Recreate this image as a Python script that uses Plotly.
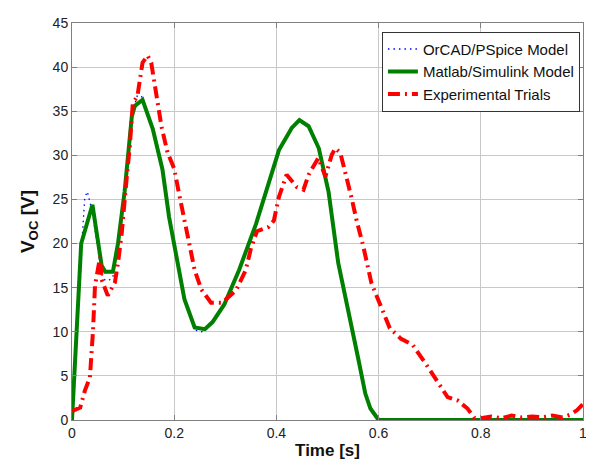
import plotly.graph_objects as go

# Matlab/Simulink model
t_sim = [0, 0.018, 0.04, 0.058, 0.065, 0.08, 0.09, 0.103, 0.117, 0.123, 0.138, 0.158, 0.177,
         0.19, 0.22, 0.24, 0.26, 0.275, 0.298, 0.327, 0.36, 0.385, 0.405, 0.43, 0.445, 0.463,
         0.483, 0.502, 0.521, 0.56, 0.574, 0.584, 0.6, 1.0]
v_sim = [0, 20, 24.4, 17.5, 16.8, 16.8, 20, 25.9, 34.4, 35.6, 36.3, 33, 28.4,
         23, 13.7, 10.5, 10.3, 11.1, 13.1, 17, 22.2, 27, 30.6, 33.1, 34, 33.3,
         30.8, 25.9, 17.8, 7, 3, 1.3, 0, 0]

# OrCAD/PSpice model
t_psp = [0, 0.009, 0.018, 0.025, 0.03, 0.04, 0.058, 0.065, 0.074, 0.08, 0.09, 0.103, 0.117,
         0.128, 0.138, 0.158, 0.177, 0.19, 0.22, 0.24, 0.253, 0.26, 0.275, 0.298, 0.327, 0.36,
         0.385, 0.405, 0.43, 0.445, 0.463, 0.483, 0.502, 0.521, 0.56, 0.574, 0.584, 0.6, 1.0]
v_psp = [0, 9.7, 18.9, 25.2, 25.9, 23.5, 16.5, 15.8, 15.9, 16.2, 19.5, 25.5, 34.6,
         36.8, 36.6, 33, 28.4, 23, 13.5, 10.2, 10, 10.1, 11, 13, 17, 22.2,
         27, 30.6, 33.1, 34, 33.3, 30.8, 25.9, 17.8, 7, 3, 1.3, 0, 0]

# Experimental trials
t_exp = [0, 0.016, 0.025, 0.035, 0.041, 0.045, 0.055, 0.058, 0.07, 0.084, 0.09, 0.097, 0.107,
         0.113, 0.119, 0.128, 0.138, 0.148, 0.155, 0.165, 0.175, 0.187, 0.2, 0.21, 0.22, 0.23,
         0.24, 0.253, 0.272, 0.294, 0.321, 0.34, 0.35, 0.362, 0.385, 0.395, 0.405, 0.42, 0.44,
         0.453, 0.463, 0.482, 0.496, 0.508, 0.515, 0.525, 0.537, 0.547, 0.557, 0.57, 0.586,
         0.603, 0.622, 0.644, 0.667, 0.693, 0.716, 0.735, 0.755, 0.774, 0.788, 0.8, 0.82, 0.84,
         0.86, 0.88, 0.9, 0.92, 0.94, 0.96, 0.975, 0.988, 1.0]
v_exp = [1.0, 1.4, 3.3, 4.8, 10, 15.2, 18.5, 15.9, 14.1, 15.6, 17.8, 21, 27.4,
         31, 35.9, 36.7, 40.5, 41.3, 40.5, 36.9, 33.3, 30.3, 28.5, 25.5, 22.6, 19.7,
         17, 14.8, 13.3, 13.3, 14.7, 17, 19.4, 21.4, 21.9, 22.6, 25.3, 27.8, 26.4,
         26.1, 27.8, 29.7, 27.6, 30, 30.8, 30.3, 27.6, 25.2, 22.6, 19.7, 15.5,
         13, 10.4, 9.2, 8.5, 6.3, 4.3, 2.6, 2.2, 1.3, 0.2, 0.2, 0.4, 0.2,
         0.5, 0.3, 0.4, 0.3, 0.5, 0.3, 0.6, 1.1, 1.8]

x_ticks = [0, 0.2, 0.4, 0.6, 0.8, 1]
x_tick_labels = ["0", "0.2", "0.4", "0.6", "0.8", "1"]
y_ticks = [0, 5, 10, 15, 20, 25, 30, 35, 40, 45]

fig = go.Figure()
fig.add_trace(go.Scatter(x=t_psp, y=v_psp, mode="lines", name="OrCAD/PSpice Model",
                         line=dict(color="#0000ff", width=1.3, dash="1.5px,4px")))
fig.add_trace(go.Scatter(x=t_sim, y=v_sim, mode="lines", name="Matlab/Simulink Model",
                         line=dict(color="#008000", width=4)))
fig.add_trace(go.Scatter(x=t_exp, y=v_exp, mode="lines", name="Experimental Trials",
                         line=dict(color="#ff0000", width=4, dash="12px,5px,2px,5px")))

font = "Liberation Sans, Arial, sans-serif"
axis_common = dict(showline=True, linecolor="#808080", linewidth=1, mirror="ticks",
                   ticks="inside", ticklen=5, tickcolor="#808080",
                   showgrid=True, gridcolor="#c8c8c8", gridwidth=1,
                   zeroline=False, ticklabeloverflow="allow",
                   tickfont=dict(family=font, size=14, color="#222"))

fig.update_xaxes(range=[0, 1], tickvals=x_ticks, ticktext=x_tick_labels,
                 title=dict(text="<b>Time [s]</b>", font=dict(family=font, size=17, color="#111"),
                            standoff=4), **axis_common)
fig.update_yaxes(range=[0, 45], tickvals=y_ticks,
                 title=dict(text="<b>V<sub>OC</sub> [V]</b>", font=dict(family=font, size=19, color="#111"),
                            standoff=12), **axis_common)

# the page body adds an 8px offset; the figure is sized to fill the rest of the window
fig.update_layout(
    width=586, height=460,
    margin=dict(l=64, r=8, t=7, b=48),
    paper_bgcolor="white", plot_bgcolor="white",
    font=dict(family=font, size=14, color="#111"),
    showlegend=True,
    legend=dict(x=0.994, y=0.978, xanchor="right", yanchor="top",
                bgcolor="white", bordercolor="#333", borderwidth=1,
                font=dict(family=font, size=15, color="#111"),
                tracegroupgap=0, itemwidth=30),
)

fig.write_html("out.html")
